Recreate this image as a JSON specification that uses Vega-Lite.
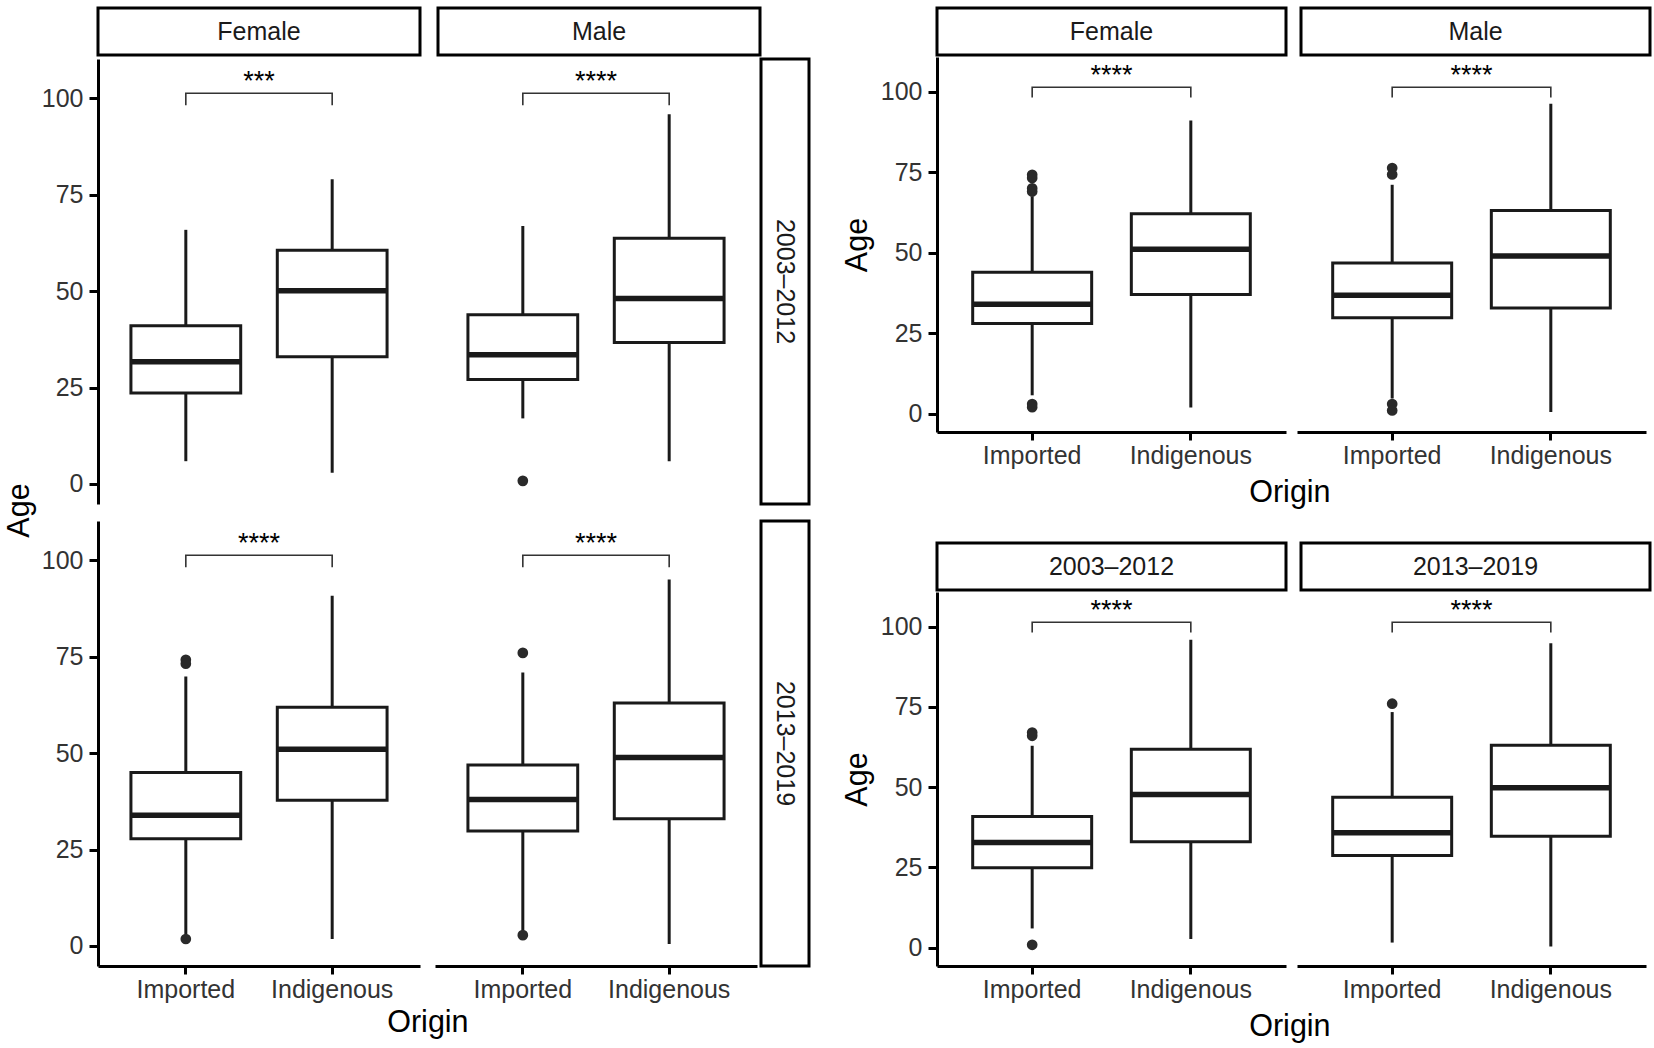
{
  "$schema": "https://vega.github.io/schema/vega-lite/v6.json",
  "background": "white",
  "padding": {"left": 4, "top": 6, "right": 0, "bottom": 0},
  "datasets": {
    "boxes": [
      {"panel": "LF1", "origin": "Imported", "lower": 5.9, "q1": 23.6, "median": 31.7, "q3": 41.0, "upper": 65.9},
      {"panel": "LF1", "origin": "Indigenous", "lower": 2.9, "q1": 33.0, "median": 50.1, "q3": 60.6, "upper": 79.0},
      {"panel": "LM1", "origin": "Imported", "lower": 17.0, "q1": 27.1, "median": 33.5, "q3": 43.9, "upper": 66.9},
      {"panel": "LM1", "origin": "Indigenous", "lower": 5.9, "q1": 36.7, "median": 48.1, "q3": 63.7, "upper": 95.9},
      {"panel": "LF2", "origin": "Imported", "lower": 3.0, "q1": 27.8, "median": 33.9, "q3": 45.0, "upper": 69.9},
      {"panel": "LF2", "origin": "Indigenous", "lower": 1.8, "q1": 37.8, "median": 51.0, "q3": 61.9, "upper": 90.8},
      {"panel": "LM2", "origin": "Imported", "lower": 4.0, "q1": 29.8, "median": 38.0, "q3": 46.9, "upper": 70.9},
      {"panel": "LM2", "origin": "Indigenous", "lower": 0.5, "q1": 33.0, "median": 48.9, "q3": 63.0, "upper": 95.0},
      {"panel": "RF", "origin": "Imported", "lower": 5.7, "q1": 28.0, "median": 34.0, "q3": 43.9, "upper": 67.5},
      {"panel": "RF", "origin": "Indigenous", "lower": 1.9, "q1": 37.0, "median": 51.1, "q3": 62.1, "upper": 91.1},
      {"panel": "RM", "origin": "Imported", "lower": 4.7, "q1": 29.8, "median": 36.8, "q3": 46.8, "upper": 71.1},
      {"panel": "RM", "origin": "Indigenous", "lower": 0.5, "q1": 32.8, "median": 49.0, "q3": 63.1, "upper": 96.3},
      {"panel": "R1", "origin": "Imported", "lower": 6.0, "q1": 24.9, "median": 32.8, "q3": 40.9, "upper": 62.9},
      {"panel": "R1", "origin": "Indigenous", "lower": 2.7, "q1": 33.0, "median": 47.7, "q3": 61.8, "upper": 95.9},
      {"panel": "R2", "origin": "Imported", "lower": 1.6, "q1": 28.7, "median": 35.8, "q3": 46.9, "upper": 73.4},
      {"panel": "R2", "origin": "Indigenous", "lower": 0.4, "q1": 34.7, "median": 49.8, "q3": 63.1, "upper": 94.8}
    ],
    "outliers": [
      {"panel": "LM1", "origin": "Imported", "age": 0.8},
      {"panel": "LF2", "origin": "Imported", "age": 74.2},
      {"panel": "LF2", "origin": "Imported", "age": 73.2},
      {"panel": "LF2", "origin": "Imported", "age": 1.8},
      {"panel": "LM2", "origin": "Imported", "age": 76.0},
      {"panel": "LM2", "origin": "Imported", "age": 2.8},
      {"panel": "RF", "origin": "Imported", "age": 74.2},
      {"panel": "RF", "origin": "Imported", "age": 73.2},
      {"panel": "RF", "origin": "Imported", "age": 70.0},
      {"panel": "RF", "origin": "Imported", "age": 69.0},
      {"panel": "RF", "origin": "Imported", "age": 3.0},
      {"panel": "RF", "origin": "Imported", "age": 2.0},
      {"panel": "RM", "origin": "Imported", "age": 76.3},
      {"panel": "RM", "origin": "Imported", "age": 74.3},
      {"panel": "RM", "origin": "Imported", "age": 3.0},
      {"panel": "RM", "origin": "Imported", "age": 1.0},
      {"panel": "R1", "origin": "Imported", "age": 67.0},
      {"panel": "R1", "origin": "Imported", "age": 66.0},
      {"panel": "R1", "origin": "Imported", "age": 0.9},
      {"panel": "R2", "origin": "Imported", "age": 76.0}
    ],
    "brackets": [
      {"panel": "LF1", "origin": "Imported", "y": 98.2, "seq": 1}, {"panel": "LF1", "origin": "Imported", "y": 101.3, "seq": 2}, {"panel": "LF1", "origin": "Indigenous", "y": 101.3, "seq": 3}, {"panel": "LF1", "origin": "Indigenous", "y": 98.2, "seq": 4},
      {"panel": "LM1", "origin": "Imported", "y": 98.2, "seq": 1}, {"panel": "LM1", "origin": "Imported", "y": 101.3, "seq": 2}, {"panel": "LM1", "origin": "Indigenous", "y": 101.3, "seq": 3}, {"panel": "LM1", "origin": "Indigenous", "y": 98.2, "seq": 4},
      {"panel": "LF2", "origin": "Imported", "y": 98.2, "seq": 1}, {"panel": "LF2", "origin": "Imported", "y": 101.3, "seq": 2}, {"panel": "LF2", "origin": "Indigenous", "y": 101.3, "seq": 3}, {"panel": "LF2", "origin": "Indigenous", "y": 98.2, "seq": 4},
      {"panel": "LM2", "origin": "Imported", "y": 98.2, "seq": 1}, {"panel": "LM2", "origin": "Imported", "y": 101.3, "seq": 2}, {"panel": "LM2", "origin": "Indigenous", "y": 101.3, "seq": 3}, {"panel": "LM2", "origin": "Indigenous", "y": 98.2, "seq": 4},
      {"panel": "RF", "origin": "Imported", "y": 98.2, "seq": 1}, {"panel": "RF", "origin": "Imported", "y": 101.4, "seq": 2}, {"panel": "RF", "origin": "Indigenous", "y": 101.4, "seq": 3}, {"panel": "RF", "origin": "Indigenous", "y": 98.2, "seq": 4},
      {"panel": "RM", "origin": "Imported", "y": 98.2, "seq": 1}, {"panel": "RM", "origin": "Imported", "y": 101.4, "seq": 2}, {"panel": "RM", "origin": "Indigenous", "y": 101.4, "seq": 3}, {"panel": "RM", "origin": "Indigenous", "y": 98.2, "seq": 4},
      {"panel": "R1", "origin": "Imported", "y": 98.2, "seq": 1}, {"panel": "R1", "origin": "Imported", "y": 101.4, "seq": 2}, {"panel": "R1", "origin": "Indigenous", "y": 101.4, "seq": 3}, {"panel": "R1", "origin": "Indigenous", "y": 98.2, "seq": 4},
      {"panel": "R2", "origin": "Imported", "y": 98.2, "seq": 1}, {"panel": "R2", "origin": "Imported", "y": 101.4, "seq": 2}, {"panel": "R2", "origin": "Indigenous", "y": 101.4, "seq": 3}, {"panel": "R2", "origin": "Indigenous", "y": 98.2, "seq": 4}
    ],
    "signif": [
      {"panel": "LF1", "label": "***", "y": 102.2},
      {"panel": "LM1", "label": "****", "y": 102.2},
      {"panel": "LF2", "label": "****", "y": 102.2},
      {"panel": "LM2", "label": "****", "y": 102.2},
      {"panel": "RF", "label": "****", "y": 102.4},
      {"panel": "RM", "label": "****", "y": 102.4},
      {"panel": "R1", "label": "****", "y": 102.4},
      {"panel": "R2", "label": "****", "y": 102.4}
    ]
  },
  "hconcat": [
    {
      "title": {"text": "Age", "orient": "left", "anchor": "middle", "offset": 6, "dx": 12},
      "spacing": 0,
      "vconcat": [
        {
          "hconcat": [
            {"width": 322, "height": 47, "view": {"stroke": "#000", "strokeWidth": 3, "fill": "white"}, "data": {"values": [{"label": "Female"}]}, "mark": {"type": "text", "fontSize": 25, "color": "#1a1a1a"}, "encoding": {"text": {"field": "label"}}},
            {"width": 322, "height": 47, "view": {"stroke": "#000", "strokeWidth": 3, "fill": "white"}, "data": {"values": [{"label": "Male"}]}, "mark": {"type": "text", "fontSize": 25, "color": "#1a1a1a"}, "encoding": {"text": {"field": "label"}}}
          ],
          "spacing": 14
        },
        {
          "title": {"text": "Origin", "orient": "bottom", "anchor": "middle", "offset": 6, "dx": 2},
          "concat": [
            {
              "width": 322, "height": 445,
              "layer": [
                {"data": {"name": "brackets"}, "transform": [{"filter": "datum.panel == 'LF1'"}], "mark": {"type": "line", "color": "#333", "strokeWidth": 1.6}, "encoding": {"x": {"field": "origin", "type": "nominal", "title": null, "axis": null, "scale": {"type": "band", "domain": ["Imported", "Indigenous"], "paddingInner": 0.25, "paddingOuter": 0.225}}, "y": {"field": "y", "type": "quantitative", "title": null, "scale": {"domain": [-5.2, 110.2], "nice": false, "zero": false}, "axis": {"values": [0, 25, 50, 75, 100]}}, "order": {"field": "seq", "type": "quantitative"}}},
                {"data": {"name": "signif"}, "transform": [{"filter": "datum.panel == 'LF1'"}], "mark": {"type": "text", "fontSize": 27, "baseline": "alphabetic", "color": "#000"}, "encoding": {"y": {"field": "y", "type": "quantitative", "title": null, "scale": {"domain": [-5.2, 110.2], "nice": false, "zero": false}, "axis": {"values": [0, 25, 50, 75, 100]}}, "text": {"field": "label"}}},
                {"data": {"name": "boxes"}, "transform": [{"filter": "datum.panel == 'LF1'"}], "mark": {"type": "rule", "color": "#1a1a1a", "strokeWidth": 3}, "encoding": {"x": {"field": "origin", "type": "nominal", "title": null, "axis": null, "scale": {"type": "band", "domain": ["Imported", "Indigenous"], "paddingInner": 0.25, "paddingOuter": 0.225}}, "y": {"field": "lower", "type": "quantitative", "title": null, "scale": {"domain": [-5.2, 110.2], "nice": false, "zero": false}, "axis": {"values": [0, 25, 50, 75, 100]}}, "y2": {"field": "upper"}}},
                {"data": {"name": "boxes"}, "transform": [{"filter": "datum.panel == 'LF1'"}], "mark": {"type": "bar", "fill": "white", "stroke": "#1a1a1a", "strokeWidth": 3}, "encoding": {"x": {"field": "origin", "type": "nominal", "title": null, "axis": null, "scale": {"type": "band", "domain": ["Imported", "Indigenous"], "paddingInner": 0.25, "paddingOuter": 0.225}}, "y": {"field": "q1", "type": "quantitative", "title": null, "scale": {"domain": [-5.2, 110.2], "nice": false, "zero": false}, "axis": {"values": [0, 25, 50, 75, 100]}}, "y2": {"field": "q3"}}},
                {"data": {"name": "boxes"}, "transform": [{"filter": "datum.panel == 'LF1'"}], "mark": {"type": "bar", "fill": "white", "stroke": "#1a1a1a", "strokeWidth": 5.5}, "encoding": {"x": {"field": "origin", "type": "nominal", "title": null, "axis": null, "scale": {"type": "band", "domain": ["Imported", "Indigenous"], "paddingInner": 0.25, "paddingOuter": 0.225}}, "y": {"field": "median", "type": "quantitative", "title": null, "scale": {"domain": [-5.2, 110.2], "nice": false, "zero": false}, "axis": {"values": [0, 25, 50, 75, 100]}}, "y2": {"field": "median"}}},
                {"data": {"name": "outliers"}, "transform": [{"filter": "datum.panel == 'LF1'"}], "mark": {"type": "circle", "size": 115, "color": "#2a2a2a", "opacity": 1}, "encoding": {"x": {"field": "origin", "type": "nominal", "title": null, "axis": null, "scale": {"type": "band", "domain": ["Imported", "Indigenous"], "paddingInner": 0.25, "paddingOuter": 0.225}}, "y": {"field": "age", "type": "quantitative", "title": null, "scale": {"domain": [-5.2, 110.2], "nice": false, "zero": false}, "axis": {"values": [0, 25, 50, 75, 100]}}}}
              ]
            },
            {
              "hconcat": [
                {
                  "width": 322, "height": 445,
                  "layer": [
                    {"data": {"name": "brackets"}, "transform": [{"filter": "datum.panel == 'LM1'"}], "mark": {"type": "line", "color": "#333", "strokeWidth": 1.6}, "encoding": {"x": {"field": "origin", "type": "nominal", "title": null, "axis": null, "scale": {"type": "band", "domain": ["Imported", "Indigenous"], "paddingInner": 0.25, "paddingOuter": 0.225}}, "y": {"field": "y", "type": "quantitative", "title": null, "scale": {"domain": [-5.2, 110.2], "nice": false, "zero": false}, "axis": null}, "order": {"field": "seq", "type": "quantitative"}}},
                    {"data": {"name": "signif"}, "transform": [{"filter": "datum.panel == 'LM1'"}], "mark": {"type": "text", "fontSize": 27, "baseline": "alphabetic", "color": "#000"}, "encoding": {"y": {"field": "y", "type": "quantitative", "title": null, "scale": {"domain": [-5.2, 110.2], "nice": false, "zero": false}, "axis": null}, "text": {"field": "label"}}},
                    {"data": {"name": "boxes"}, "transform": [{"filter": "datum.panel == 'LM1'"}], "mark": {"type": "rule", "color": "#1a1a1a", "strokeWidth": 3}, "encoding": {"x": {"field": "origin", "type": "nominal", "title": null, "axis": null, "scale": {"type": "band", "domain": ["Imported", "Indigenous"], "paddingInner": 0.25, "paddingOuter": 0.225}}, "y": {"field": "lower", "type": "quantitative", "title": null, "scale": {"domain": [-5.2, 110.2], "nice": false, "zero": false}, "axis": null}, "y2": {"field": "upper"}}},
                    {"data": {"name": "boxes"}, "transform": [{"filter": "datum.panel == 'LM1'"}], "mark": {"type": "bar", "fill": "white", "stroke": "#1a1a1a", "strokeWidth": 3}, "encoding": {"x": {"field": "origin", "type": "nominal", "title": null, "axis": null, "scale": {"type": "band", "domain": ["Imported", "Indigenous"], "paddingInner": 0.25, "paddingOuter": 0.225}}, "y": {"field": "q1", "type": "quantitative", "title": null, "scale": {"domain": [-5.2, 110.2], "nice": false, "zero": false}, "axis": null}, "y2": {"field": "q3"}}},
                    {"data": {"name": "boxes"}, "transform": [{"filter": "datum.panel == 'LM1'"}], "mark": {"type": "bar", "fill": "white", "stroke": "#1a1a1a", "strokeWidth": 5.5}, "encoding": {"x": {"field": "origin", "type": "nominal", "title": null, "axis": null, "scale": {"type": "band", "domain": ["Imported", "Indigenous"], "paddingInner": 0.25, "paddingOuter": 0.225}}, "y": {"field": "median", "type": "quantitative", "title": null, "scale": {"domain": [-5.2, 110.2], "nice": false, "zero": false}, "axis": null}, "y2": {"field": "median"}}},
                    {"data": {"name": "outliers"}, "transform": [{"filter": "datum.panel == 'LM1'"}], "mark": {"type": "circle", "size": 115, "color": "#2a2a2a", "opacity": 1}, "encoding": {"x": {"field": "origin", "type": "nominal", "title": null, "axis": null, "scale": {"type": "band", "domain": ["Imported", "Indigenous"], "paddingInner": 0.25, "paddingOuter": 0.225}}, "y": {"field": "age", "type": "quantitative", "title": null, "scale": {"domain": [-5.2, 110.2], "nice": false, "zero": false}, "axis": null}}}
                  ]
                },
                {"width": 48, "height": 445, "view": {"stroke": "#000", "strokeWidth": 3, "fill": "white"}, "data": {"values": [{"label": "2003–2012"}]}, "mark": {"type": "text", "fontSize": 25, "color": "#1a1a1a", "angle": 90}, "encoding": {"text": {"field": "label"}}}
              ],
              "spacing": 2
            },
            {
              "width": 322, "height": 445,
              "layer": [
                {"data": {"name": "brackets"}, "transform": [{"filter": "datum.panel == 'LF2'"}], "mark": {"type": "line", "color": "#333", "strokeWidth": 1.6}, "encoding": {"x": {"field": "origin", "type": "nominal", "title": null, "scale": {"type": "band", "domain": ["Imported", "Indigenous"], "paddingInner": 0.25, "paddingOuter": 0.225}}, "y": {"field": "y", "type": "quantitative", "title": null, "scale": {"domain": [-5.2, 110.2], "nice": false, "zero": false}, "axis": {"values": [0, 25, 50, 75, 100]}}, "order": {"field": "seq", "type": "quantitative"}}},
                {"data": {"name": "signif"}, "transform": [{"filter": "datum.panel == 'LF2'"}], "mark": {"type": "text", "fontSize": 27, "baseline": "alphabetic", "color": "#000"}, "encoding": {"y": {"field": "y", "type": "quantitative", "title": null, "scale": {"domain": [-5.2, 110.2], "nice": false, "zero": false}, "axis": {"values": [0, 25, 50, 75, 100]}}, "text": {"field": "label"}}},
                {"data": {"name": "boxes"}, "transform": [{"filter": "datum.panel == 'LF2'"}], "mark": {"type": "rule", "color": "#1a1a1a", "strokeWidth": 3}, "encoding": {"x": {"field": "origin", "type": "nominal", "title": null, "scale": {"type": "band", "domain": ["Imported", "Indigenous"], "paddingInner": 0.25, "paddingOuter": 0.225}}, "y": {"field": "lower", "type": "quantitative", "title": null, "scale": {"domain": [-5.2, 110.2], "nice": false, "zero": false}, "axis": {"values": [0, 25, 50, 75, 100]}}, "y2": {"field": "upper"}}},
                {"data": {"name": "boxes"}, "transform": [{"filter": "datum.panel == 'LF2'"}], "mark": {"type": "bar", "fill": "white", "stroke": "#1a1a1a", "strokeWidth": 3}, "encoding": {"x": {"field": "origin", "type": "nominal", "title": null, "scale": {"type": "band", "domain": ["Imported", "Indigenous"], "paddingInner": 0.25, "paddingOuter": 0.225}}, "y": {"field": "q1", "type": "quantitative", "title": null, "scale": {"domain": [-5.2, 110.2], "nice": false, "zero": false}, "axis": {"values": [0, 25, 50, 75, 100]}}, "y2": {"field": "q3"}}},
                {"data": {"name": "boxes"}, "transform": [{"filter": "datum.panel == 'LF2'"}], "mark": {"type": "bar", "fill": "white", "stroke": "#1a1a1a", "strokeWidth": 5.5}, "encoding": {"x": {"field": "origin", "type": "nominal", "title": null, "scale": {"type": "band", "domain": ["Imported", "Indigenous"], "paddingInner": 0.25, "paddingOuter": 0.225}}, "y": {"field": "median", "type": "quantitative", "title": null, "scale": {"domain": [-5.2, 110.2], "nice": false, "zero": false}, "axis": {"values": [0, 25, 50, 75, 100]}}, "y2": {"field": "median"}}},
                {"data": {"name": "outliers"}, "transform": [{"filter": "datum.panel == 'LF2'"}], "mark": {"type": "circle", "size": 115, "color": "#2a2a2a", "opacity": 1}, "encoding": {"x": {"field": "origin", "type": "nominal", "title": null, "scale": {"type": "band", "domain": ["Imported", "Indigenous"], "paddingInner": 0.25, "paddingOuter": 0.225}}, "y": {"field": "age", "type": "quantitative", "title": null, "scale": {"domain": [-5.2, 110.2], "nice": false, "zero": false}, "axis": {"values": [0, 25, 50, 75, 100]}}}}
              ]
            },
            {
              "hconcat": [
                {
                  "width": 322, "height": 445,
                  "layer": [
                    {"data": {"name": "brackets"}, "transform": [{"filter": "datum.panel == 'LM2'"}], "mark": {"type": "line", "color": "#333", "strokeWidth": 1.6}, "encoding": {"x": {"field": "origin", "type": "nominal", "title": null, "scale": {"type": "band", "domain": ["Imported", "Indigenous"], "paddingInner": 0.25, "paddingOuter": 0.225}}, "y": {"field": "y", "type": "quantitative", "title": null, "scale": {"domain": [-5.2, 110.2], "nice": false, "zero": false}, "axis": null}, "order": {"field": "seq", "type": "quantitative"}}},
                    {"data": {"name": "signif"}, "transform": [{"filter": "datum.panel == 'LM2'"}], "mark": {"type": "text", "fontSize": 27, "baseline": "alphabetic", "color": "#000"}, "encoding": {"y": {"field": "y", "type": "quantitative", "title": null, "scale": {"domain": [-5.2, 110.2], "nice": false, "zero": false}, "axis": null}, "text": {"field": "label"}}},
                    {"data": {"name": "boxes"}, "transform": [{"filter": "datum.panel == 'LM2'"}], "mark": {"type": "rule", "color": "#1a1a1a", "strokeWidth": 3}, "encoding": {"x": {"field": "origin", "type": "nominal", "title": null, "scale": {"type": "band", "domain": ["Imported", "Indigenous"], "paddingInner": 0.25, "paddingOuter": 0.225}}, "y": {"field": "lower", "type": "quantitative", "title": null, "scale": {"domain": [-5.2, 110.2], "nice": false, "zero": false}, "axis": null}, "y2": {"field": "upper"}}},
                    {"data": {"name": "boxes"}, "transform": [{"filter": "datum.panel == 'LM2'"}], "mark": {"type": "bar", "fill": "white", "stroke": "#1a1a1a", "strokeWidth": 3}, "encoding": {"x": {"field": "origin", "type": "nominal", "title": null, "scale": {"type": "band", "domain": ["Imported", "Indigenous"], "paddingInner": 0.25, "paddingOuter": 0.225}}, "y": {"field": "q1", "type": "quantitative", "title": null, "scale": {"domain": [-5.2, 110.2], "nice": false, "zero": false}, "axis": null}, "y2": {"field": "q3"}}},
                    {"data": {"name": "boxes"}, "transform": [{"filter": "datum.panel == 'LM2'"}], "mark": {"type": "bar", "fill": "white", "stroke": "#1a1a1a", "strokeWidth": 5.5}, "encoding": {"x": {"field": "origin", "type": "nominal", "title": null, "scale": {"type": "band", "domain": ["Imported", "Indigenous"], "paddingInner": 0.25, "paddingOuter": 0.225}}, "y": {"field": "median", "type": "quantitative", "title": null, "scale": {"domain": [-5.2, 110.2], "nice": false, "zero": false}, "axis": null}, "y2": {"field": "median"}}},
                    {"data": {"name": "outliers"}, "transform": [{"filter": "datum.panel == 'LM2'"}], "mark": {"type": "circle", "size": 115, "color": "#2a2a2a", "opacity": 1}, "encoding": {"x": {"field": "origin", "type": "nominal", "title": null, "scale": {"type": "band", "domain": ["Imported", "Indigenous"], "paddingInner": 0.25, "paddingOuter": 0.225}}, "y": {"field": "age", "type": "quantitative", "title": null, "scale": {"domain": [-5.2, 110.2], "nice": false, "zero": false}, "axis": null}}}
                  ]
                },
                {"width": 48, "height": 445, "view": {"stroke": "#000", "strokeWidth": 3, "fill": "white"}, "data": {"values": [{"label": "2013–2019"}]}, "mark": {"type": "text", "fontSize": 25, "color": "#1a1a1a", "angle": 90}, "encoding": {"text": {"field": "label"}}}
              ],
              "spacing": 2
            }
          ],
          "columns": 2,
          "align": "each",
          "spacing": {"row": 13, "column": 15}
        }
      ]
    },
    {
      "spacing": 32,
      "vconcat": [
        {
          "title": {"text": "Origin", "orient": "bottom", "anchor": "middle", "offset": 10, "dx": 43},
          "spacing": 0,
          "vconcat": [
            {
              "hconcat": [
                {"width": 349, "height": 47, "view": {"stroke": "#000", "strokeWidth": 3, "fill": "white"}, "data": {"values": [{"label": "Female"}]}, "mark": {"type": "text", "fontSize": 25, "color": "#1a1a1a"}, "encoding": {"text": {"field": "label"}}},
                {"width": 349, "height": 47, "view": {"stroke": "#000", "strokeWidth": 3, "fill": "white"}, "data": {"values": [{"label": "Male"}]}, "mark": {"type": "text", "fontSize": 25, "color": "#1a1a1a"}, "encoding": {"text": {"field": "label"}}}
              ],
              "spacing": 11
            },
            {
              "hconcat": [
                {
                  "width": 349, "height": 375,
                  "layer": [
                    {"data": {"name": "brackets"}, "transform": [{"filter": "datum.panel == 'RF'"}], "mark": {"type": "line", "color": "#333", "strokeWidth": 1.6}, "encoding": {"x": {"field": "origin", "type": "nominal", "title": null, "scale": {"type": "band", "domain": ["Imported", "Indigenous"], "paddingInner": 0.25, "paddingOuter": 0.225}}, "y": {"field": "y", "type": "quantitative", "title": "Age", "scale": {"domain": [-5.7, 110.8], "nice": false, "zero": false}, "axis": {"values": [0, 25, 50, 75, 100]}}, "order": {"field": "seq", "type": "quantitative"}}},
                    {"data": {"name": "signif"}, "transform": [{"filter": "datum.panel == 'RF'"}], "mark": {"type": "text", "fontSize": 27, "baseline": "alphabetic", "color": "#000"}, "encoding": {"y": {"field": "y", "type": "quantitative", "title": "Age", "scale": {"domain": [-5.7, 110.8], "nice": false, "zero": false}, "axis": {"values": [0, 25, 50, 75, 100]}}, "text": {"field": "label"}}},
                    {"data": {"name": "boxes"}, "transform": [{"filter": "datum.panel == 'RF'"}], "mark": {"type": "rule", "color": "#1a1a1a", "strokeWidth": 3}, "encoding": {"x": {"field": "origin", "type": "nominal", "title": null, "scale": {"type": "band", "domain": ["Imported", "Indigenous"], "paddingInner": 0.25, "paddingOuter": 0.225}}, "y": {"field": "lower", "type": "quantitative", "title": "Age", "scale": {"domain": [-5.7, 110.8], "nice": false, "zero": false}, "axis": {"values": [0, 25, 50, 75, 100]}}, "y2": {"field": "upper"}}},
                    {"data": {"name": "boxes"}, "transform": [{"filter": "datum.panel == 'RF'"}], "mark": {"type": "bar", "fill": "white", "stroke": "#1a1a1a", "strokeWidth": 3}, "encoding": {"x": {"field": "origin", "type": "nominal", "title": null, "scale": {"type": "band", "domain": ["Imported", "Indigenous"], "paddingInner": 0.25, "paddingOuter": 0.225}}, "y": {"field": "q1", "type": "quantitative", "title": "Age", "scale": {"domain": [-5.7, 110.8], "nice": false, "zero": false}, "axis": {"values": [0, 25, 50, 75, 100]}}, "y2": {"field": "q3"}}},
                    {"data": {"name": "boxes"}, "transform": [{"filter": "datum.panel == 'RF'"}], "mark": {"type": "bar", "fill": "white", "stroke": "#1a1a1a", "strokeWidth": 5.5}, "encoding": {"x": {"field": "origin", "type": "nominal", "title": null, "scale": {"type": "band", "domain": ["Imported", "Indigenous"], "paddingInner": 0.25, "paddingOuter": 0.225}}, "y": {"field": "median", "type": "quantitative", "title": "Age", "scale": {"domain": [-5.7, 110.8], "nice": false, "zero": false}, "axis": {"values": [0, 25, 50, 75, 100]}}, "y2": {"field": "median"}}},
                    {"data": {"name": "outliers"}, "transform": [{"filter": "datum.panel == 'RF'"}], "mark": {"type": "circle", "size": 115, "color": "#2a2a2a", "opacity": 1}, "encoding": {"x": {"field": "origin", "type": "nominal", "title": null, "scale": {"type": "band", "domain": ["Imported", "Indigenous"], "paddingInner": 0.25, "paddingOuter": 0.225}}, "y": {"field": "age", "type": "quantitative", "title": "Age", "scale": {"domain": [-5.7, 110.8], "nice": false, "zero": false}, "axis": {"values": [0, 25, 50, 75, 100]}}}}
                  ]
                },
                {
                  "width": 349, "height": 375,
                  "layer": [
                    {"data": {"name": "brackets"}, "transform": [{"filter": "datum.panel == 'RM'"}], "mark": {"type": "line", "color": "#333", "strokeWidth": 1.6}, "encoding": {"x": {"field": "origin", "type": "nominal", "title": null, "scale": {"type": "band", "domain": ["Imported", "Indigenous"], "paddingInner": 0.25, "paddingOuter": 0.225}}, "y": {"field": "y", "type": "quantitative", "title": null, "scale": {"domain": [-5.7, 110.8], "nice": false, "zero": false}, "axis": null}, "order": {"field": "seq", "type": "quantitative"}}},
                    {"data": {"name": "signif"}, "transform": [{"filter": "datum.panel == 'RM'"}], "mark": {"type": "text", "fontSize": 27, "baseline": "alphabetic", "color": "#000"}, "encoding": {"y": {"field": "y", "type": "quantitative", "title": null, "scale": {"domain": [-5.7, 110.8], "nice": false, "zero": false}, "axis": null}, "text": {"field": "label"}}},
                    {"data": {"name": "boxes"}, "transform": [{"filter": "datum.panel == 'RM'"}], "mark": {"type": "rule", "color": "#1a1a1a", "strokeWidth": 3}, "encoding": {"x": {"field": "origin", "type": "nominal", "title": null, "scale": {"type": "band", "domain": ["Imported", "Indigenous"], "paddingInner": 0.25, "paddingOuter": 0.225}}, "y": {"field": "lower", "type": "quantitative", "title": null, "scale": {"domain": [-5.7, 110.8], "nice": false, "zero": false}, "axis": null}, "y2": {"field": "upper"}}},
                    {"data": {"name": "boxes"}, "transform": [{"filter": "datum.panel == 'RM'"}], "mark": {"type": "bar", "fill": "white", "stroke": "#1a1a1a", "strokeWidth": 3}, "encoding": {"x": {"field": "origin", "type": "nominal", "title": null, "scale": {"type": "band", "domain": ["Imported", "Indigenous"], "paddingInner": 0.25, "paddingOuter": 0.225}}, "y": {"field": "q1", "type": "quantitative", "title": null, "scale": {"domain": [-5.7, 110.8], "nice": false, "zero": false}, "axis": null}, "y2": {"field": "q3"}}},
                    {"data": {"name": "boxes"}, "transform": [{"filter": "datum.panel == 'RM'"}], "mark": {"type": "bar", "fill": "white", "stroke": "#1a1a1a", "strokeWidth": 5.5}, "encoding": {"x": {"field": "origin", "type": "nominal", "title": null, "scale": {"type": "band", "domain": ["Imported", "Indigenous"], "paddingInner": 0.25, "paddingOuter": 0.225}}, "y": {"field": "median", "type": "quantitative", "title": null, "scale": {"domain": [-5.7, 110.8], "nice": false, "zero": false}, "axis": null}, "y2": {"field": "median"}}},
                    {"data": {"name": "outliers"}, "transform": [{"filter": "datum.panel == 'RM'"}], "mark": {"type": "circle", "size": 115, "color": "#2a2a2a", "opacity": 1}, "encoding": {"x": {"field": "origin", "type": "nominal", "title": null, "scale": {"type": "band", "domain": ["Imported", "Indigenous"], "paddingInner": 0.25, "paddingOuter": 0.225}}, "y": {"field": "age", "type": "quantitative", "title": null, "scale": {"domain": [-5.7, 110.8], "nice": false, "zero": false}, "axis": null}}}
                  ]
                }
              ],
              "spacing": 11
            }
          ]
        },
        {
          "title": {"text": "Origin", "orient": "bottom", "anchor": "middle", "offset": 10, "dx": 43},
          "spacing": 0,
          "vconcat": [
            {
              "hconcat": [
                {"width": 349, "height": 47, "view": {"stroke": "#000", "strokeWidth": 3, "fill": "white"}, "data": {"values": [{"label": "2003–2012"}]}, "mark": {"type": "text", "fontSize": 25, "color": "#1a1a1a"}, "encoding": {"text": {"field": "label"}}},
                {"width": 349, "height": 47, "view": {"stroke": "#000", "strokeWidth": 3, "fill": "white"}, "data": {"values": [{"label": "2013–2019"}]}, "mark": {"type": "text", "fontSize": 25, "color": "#1a1a1a"}, "encoding": {"text": {"field": "label"}}}
              ],
              "spacing": 11
            },
            {
              "hconcat": [
                {
                  "width": 349, "height": 374,
                  "layer": [
                    {"data": {"name": "brackets"}, "transform": [{"filter": "datum.panel == 'R1'"}], "mark": {"type": "line", "color": "#333", "strokeWidth": 1.6}, "encoding": {"x": {"field": "origin", "type": "nominal", "title": null, "scale": {"type": "band", "domain": ["Imported", "Indigenous"], "paddingInner": 0.25, "paddingOuter": 0.225}}, "y": {"field": "y", "type": "quantitative", "title": "Age", "scale": {"domain": [-5.7, 110.8], "nice": false, "zero": false}, "axis": {"values": [0, 25, 50, 75, 100]}}, "order": {"field": "seq", "type": "quantitative"}}},
                    {"data": {"name": "signif"}, "transform": [{"filter": "datum.panel == 'R1'"}], "mark": {"type": "text", "fontSize": 27, "baseline": "alphabetic", "color": "#000"}, "encoding": {"y": {"field": "y", "type": "quantitative", "title": "Age", "scale": {"domain": [-5.7, 110.8], "nice": false, "zero": false}, "axis": {"values": [0, 25, 50, 75, 100]}}, "text": {"field": "label"}}},
                    {"data": {"name": "boxes"}, "transform": [{"filter": "datum.panel == 'R1'"}], "mark": {"type": "rule", "color": "#1a1a1a", "strokeWidth": 3}, "encoding": {"x": {"field": "origin", "type": "nominal", "title": null, "scale": {"type": "band", "domain": ["Imported", "Indigenous"], "paddingInner": 0.25, "paddingOuter": 0.225}}, "y": {"field": "lower", "type": "quantitative", "title": "Age", "scale": {"domain": [-5.7, 110.8], "nice": false, "zero": false}, "axis": {"values": [0, 25, 50, 75, 100]}}, "y2": {"field": "upper"}}},
                    {"data": {"name": "boxes"}, "transform": [{"filter": "datum.panel == 'R1'"}], "mark": {"type": "bar", "fill": "white", "stroke": "#1a1a1a", "strokeWidth": 3}, "encoding": {"x": {"field": "origin", "type": "nominal", "title": null, "scale": {"type": "band", "domain": ["Imported", "Indigenous"], "paddingInner": 0.25, "paddingOuter": 0.225}}, "y": {"field": "q1", "type": "quantitative", "title": "Age", "scale": {"domain": [-5.7, 110.8], "nice": false, "zero": false}, "axis": {"values": [0, 25, 50, 75, 100]}}, "y2": {"field": "q3"}}},
                    {"data": {"name": "boxes"}, "transform": [{"filter": "datum.panel == 'R1'"}], "mark": {"type": "bar", "fill": "white", "stroke": "#1a1a1a", "strokeWidth": 5.5}, "encoding": {"x": {"field": "origin", "type": "nominal", "title": null, "scale": {"type": "band", "domain": ["Imported", "Indigenous"], "paddingInner": 0.25, "paddingOuter": 0.225}}, "y": {"field": "median", "type": "quantitative", "title": "Age", "scale": {"domain": [-5.7, 110.8], "nice": false, "zero": false}, "axis": {"values": [0, 25, 50, 75, 100]}}, "y2": {"field": "median"}}},
                    {"data": {"name": "outliers"}, "transform": [{"filter": "datum.panel == 'R1'"}], "mark": {"type": "circle", "size": 115, "color": "#2a2a2a", "opacity": 1}, "encoding": {"x": {"field": "origin", "type": "nominal", "title": null, "scale": {"type": "band", "domain": ["Imported", "Indigenous"], "paddingInner": 0.25, "paddingOuter": 0.225}}, "y": {"field": "age", "type": "quantitative", "title": "Age", "scale": {"domain": [-5.7, 110.8], "nice": false, "zero": false}, "axis": {"values": [0, 25, 50, 75, 100]}}}}
                  ]
                },
                {
                  "width": 349, "height": 374,
                  "layer": [
                    {"data": {"name": "brackets"}, "transform": [{"filter": "datum.panel == 'R2'"}], "mark": {"type": "line", "color": "#333", "strokeWidth": 1.6}, "encoding": {"x": {"field": "origin", "type": "nominal", "title": null, "scale": {"type": "band", "domain": ["Imported", "Indigenous"], "paddingInner": 0.25, "paddingOuter": 0.225}}, "y": {"field": "y", "type": "quantitative", "title": null, "scale": {"domain": [-5.7, 110.8], "nice": false, "zero": false}, "axis": null}, "order": {"field": "seq", "type": "quantitative"}}},
                    {"data": {"name": "signif"}, "transform": [{"filter": "datum.panel == 'R2'"}], "mark": {"type": "text", "fontSize": 27, "baseline": "alphabetic", "color": "#000"}, "encoding": {"y": {"field": "y", "type": "quantitative", "title": null, "scale": {"domain": [-5.7, 110.8], "nice": false, "zero": false}, "axis": null}, "text": {"field": "label"}}},
                    {"data": {"name": "boxes"}, "transform": [{"filter": "datum.panel == 'R2'"}], "mark": {"type": "rule", "color": "#1a1a1a", "strokeWidth": 3}, "encoding": {"x": {"field": "origin", "type": "nominal", "title": null, "scale": {"type": "band", "domain": ["Imported", "Indigenous"], "paddingInner": 0.25, "paddingOuter": 0.225}}, "y": {"field": "lower", "type": "quantitative", "title": null, "scale": {"domain": [-5.7, 110.8], "nice": false, "zero": false}, "axis": null}, "y2": {"field": "upper"}}},
                    {"data": {"name": "boxes"}, "transform": [{"filter": "datum.panel == 'R2'"}], "mark": {"type": "bar", "fill": "white", "stroke": "#1a1a1a", "strokeWidth": 3}, "encoding": {"x": {"field": "origin", "type": "nominal", "title": null, "scale": {"type": "band", "domain": ["Imported", "Indigenous"], "paddingInner": 0.25, "paddingOuter": 0.225}}, "y": {"field": "q1", "type": "quantitative", "title": null, "scale": {"domain": [-5.7, 110.8], "nice": false, "zero": false}, "axis": null}, "y2": {"field": "q3"}}},
                    {"data": {"name": "boxes"}, "transform": [{"filter": "datum.panel == 'R2'"}], "mark": {"type": "bar", "fill": "white", "stroke": "#1a1a1a", "strokeWidth": 5.5}, "encoding": {"x": {"field": "origin", "type": "nominal", "title": null, "scale": {"type": "band", "domain": ["Imported", "Indigenous"], "paddingInner": 0.25, "paddingOuter": 0.225}}, "y": {"field": "median", "type": "quantitative", "title": null, "scale": {"domain": [-5.7, 110.8], "nice": false, "zero": false}, "axis": null}, "y2": {"field": "median"}}},
                    {"data": {"name": "outliers"}, "transform": [{"filter": "datum.panel == 'R2'"}], "mark": {"type": "circle", "size": 115, "color": "#2a2a2a", "opacity": 1}, "encoding": {"x": {"field": "origin", "type": "nominal", "title": null, "scale": {"type": "band", "domain": ["Imported", "Indigenous"], "paddingInner": 0.25, "paddingOuter": 0.225}}, "y": {"field": "age", "type": "quantitative", "title": null, "scale": {"domain": [-5.7, 110.8], "nice": false, "zero": false}, "axis": null}}}
                  ]
                }
              ],
              "spacing": 11
            }
          ]
        }
      ]
    }
  ],
  "spacing": 31,
  "config": {
    "font": "Liberation Sans",
    "view": {"stroke": null},
    "axis": {"grid": false, "domainColor": "#000", "domainWidth": 3, "tickColor": "#000", "tickWidth": 3, "labelFont": "Liberation Sans", "labelFontSize": 25, "labelColor": "#333", "titleFont": "Liberation Sans", "titleFontSize": 30.5, "titleFontWeight": "normal", "titleColor": "#000"},
    "axisX": {"tickSize": 8, "labelPadding": 3, "labelAngle": 0, "bandPosition": 0.5},
    "axisY": {"tickSize": 9, "labelPadding": 6, "titlePadding": 8},
    "title": {"font": "Liberation Sans", "fontSize": 30.5, "fontWeight": "normal", "color": "#000"}
  }
}
